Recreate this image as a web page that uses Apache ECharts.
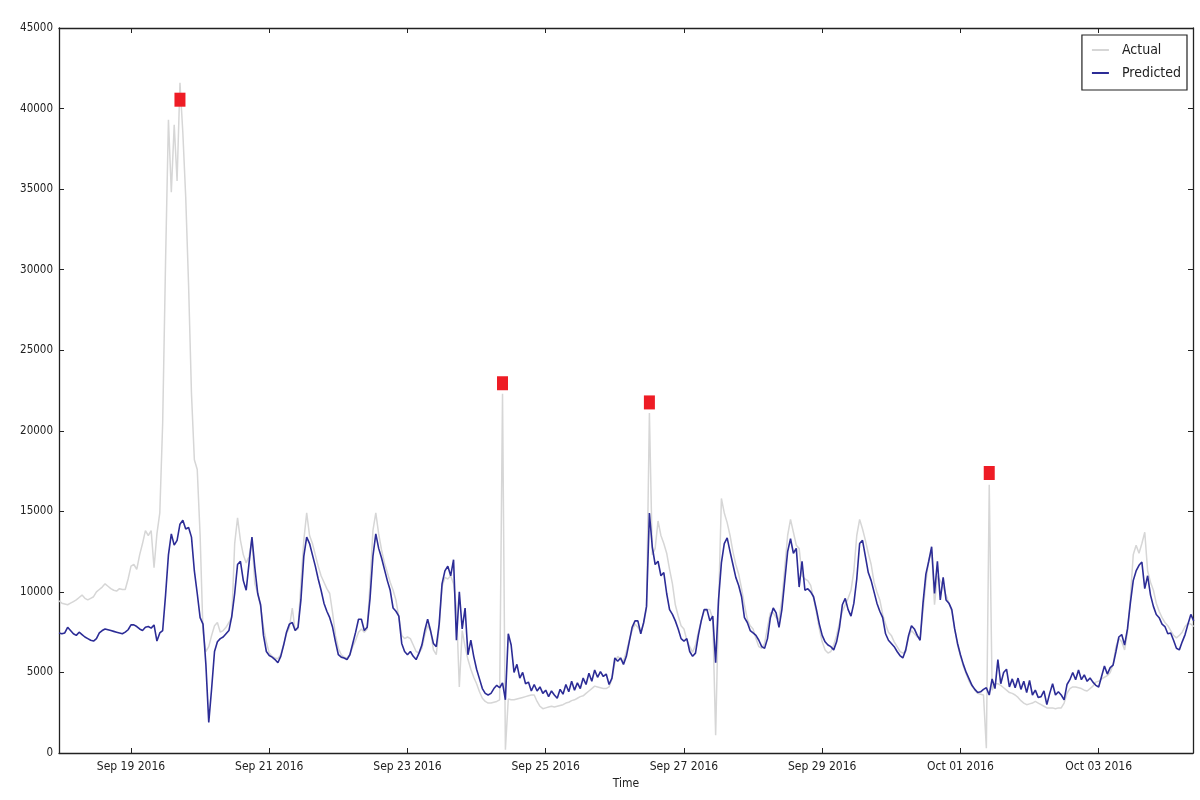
<!DOCTYPE html>
<html>
<head>
<meta charset="utf-8">
<script src="https://cdn.jsdelivr.net/npm/echarts@6/dist/echarts.min.js"></script>
<style>
  html, body { margin: 0; padding: 0; background: #fff; }
  #chart { width: 1200px; height: 800px; }
</style>
</head>
<body>
<div id="chart"></div>
<script>
// hourly readings, first point at Sep 17 2016 23:00
const startTime = '2016-09-17T23:00:00Z';

const actual = [
  9450,
  // Sep 18
  9300, 9250, 9200, 9300, 9400, 9500, 9650, 9800, 9600, 9500, 9600, 9700,
  10000, 10150, 10300, 10500, 10350, 10200, 10100, 10050, 10200, 10150, 10150, 10800,
  // Sep 19
  11600, 11700, 11400, 12300, 13000, 13800, 13500, 13800, 11500, 13600, 14900, 20500,
  30500, 39300, 34800, 39000, 35500, 41600, 38500, 34500, 29000, 22300, 18200, 17600,
  // Sep 20
  13500, 7500, 6300, 6600, 7300, 7900, 8100, 7500, 7600, 7800, 8100, 8400,
  13000, 14600, 13200, 12300, 11800, 12200, 13300, 10500, 9900, 9100, 7800, 6900,
  // Sep 21
  6200, 6000, 5900, 5850, 6100, 6700, 7400, 7800, 9000, 7600, 7700, 10500,
  13200, 14900, 13500, 13000, 12300, 11600, 11000, 10600, 10200, 9900, 8700, 7300,
  // Sep 22
  6500, 6100, 5950, 5900, 6100, 6600, 7000, 7500, 7700, 7500, 7700, 10500,
  13800, 14900, 13600, 12600, 11800, 11200, 10600, 10100, 9500, 8400, 7300, 7100,
  // Sep 23
  7200, 7100, 6700, 6300, 6200, 6500, 7300, 7900, 7600, 6400, 6100, 7800,
  10300, 10900, 10800, 11000, 10500, 9000, 4100, 7600, 6600, 5800, 5200, 4700,
  // Sep 24
  4300, 3800, 3400, 3200, 3100, 3100, 3150, 3200, 3300, 22300, 200, 3350,
  3300, 3300, 3350, 3400, 3450, 3500, 3550, 3600, 3600, 3200, 2900, 2750,
  // Sep 25
  2800, 2850, 2900, 2850, 2900, 2950, 3000, 3100, 3150, 3250, 3300, 3400,
  3500, 3550, 3700, 3850, 4000, 4150, 4100, 4050, 4000, 4000, 4100, 4600,
  // Sep 26
  5600, 6000, 5800, 5700, 6300, 7000, 7600, 8000, 7800, 7500, 8000, 9000,
  21100, 12300, 12700, 14400, 13500, 13000, 12400, 11400, 10500, 9200, 8500, 7900,
  // Sep 27
  7700, 7000, 6600, 6250, 6700, 7500, 8200, 8800, 8900, 8900, 8300, 1100,
  9000, 15800, 14900, 14300, 13500, 12500, 11700, 11100, 10200, 9200, 8300, 7900,
  // Sep 28
  7700, 7100, 6600, 6500, 6800, 7800, 8700, 8700, 8400, 8300, 9500, 11500,
  13500, 14500, 13700, 12900, 12700, 11000, 10800, 10700, 10400, 9600, 8700, 7700,
  // Sep 29
  6900, 6400, 6200, 6300, 6700, 7300, 8100, 8800, 9200, 9600, 10100, 11300,
  13500, 14500, 13900, 13200, 12400, 11700, 10600, 10000, 9500, 8600, 8000, 7500,
  // Sep 30
  7300, 6900, 6600, 6300, 6200, 6300, 7200, 7600, 7400, 7200, 7100, 8800,
  10600, 12000, 12500, 9200, 11000, 10700, 10300, 9800, 9300, 8800, 7700, 6700,
  // Oct 01
  6000, 5400, 4900, 4450, 4150, 3900, 3700, 3650, 3600, 300, 16650, 3900,
  4300, 4300, 4200, 4050, 3900, 3750, 3700, 3600, 3450, 3250, 3100, 3000,
  // Oct 02
  3050, 3100, 3200, 3100, 3000, 2900, 2800, 2800, 2800, 2750, 2800, 2800,
  3100, 3700, 4000, 4100, 4100, 4050, 4000, 3900, 3850, 4000, 4150, 4400,
  // Oct 03
  4450, 4600, 4700, 4800, 5000, 5500, 6600, 7100, 6900, 6400, 7500, 9600,
  12300, 12900, 12400, 13000, 13700, 11300, 10600, 10100, 9300, 8800, 8400, 8100,
  // Oct 04
  7900, 7600, 7300, 7150, 7300, 7500, 7850, 8050, 8000, 7850
];

const predicted = [
  7450,
  // Sep 18
  7400, 7450, 7800, 7600, 7400, 7300, 7500, 7350, 7200, 7100, 7000, 6950,
  7100, 7450, 7600, 7700, 7650, 7600, 7550, 7500, 7450, 7400, 7500, 7650,
  // Sep 19
  7950, 7950, 7850, 7700, 7600, 7800, 7850, 7750, 7950, 6950, 7450, 7600,
  9800, 12300, 13600, 12900, 13200, 14200, 14450, 13900, 14000, 13400, 11300, 9900,
  // Sep 20
  8400, 8000, 5500, 1900, 4000, 6300, 6900, 7100, 7200, 7400, 7600, 8500,
  9900, 11700, 11900, 10700, 10100, 11800, 13400, 11500, 9900, 9200, 7300, 6300,
  // Sep 21
  6050, 5950, 5800, 5600, 6000, 6700, 7500, 8000, 8100, 7600, 7800, 9500,
  12200, 13400, 13000, 12300, 11600, 10800, 10100, 9300, 8800, 8400, 7800, 6900,
  // Sep 22
  6100, 5950, 5900, 5800, 6100, 6800, 7500, 8300, 8300, 7600, 7800, 9600,
  12200, 13600, 12700, 12100, 11400, 10700, 10100, 9000, 8800, 8500, 6800, 6300,
  // Sep 23
  6100, 6300, 6000, 5800, 6200, 6700, 7600, 8300, 7600, 6800, 6600, 8000,
  10500, 11300, 11600, 11000, 12000, 7000, 10000, 7700, 9000, 6100, 7000, 6000,
  // Sep 24
  5200, 4600, 4000, 3700, 3600, 3700, 4000, 4200, 4050, 4350, 3300, 7400,
  6700, 5000, 5500, 4650, 5000, 4300, 4400, 3850, 4250, 3850, 4100, 3700,
  // Sep 25
  3900, 3500, 3850, 3600, 3400, 3950, 3650, 4250, 3800, 4450, 3900, 4350,
  4000, 4650, 4250, 4950, 4450, 5150, 4700, 5050, 4750, 4900, 4250, 4650,
  // Sep 26
  5900, 5700, 5900, 5500, 6000, 6900, 7800, 8200, 8200, 7400, 8100, 9100,
  14900, 12800, 11700, 11900, 11000, 11200, 9900, 8900, 8600, 8200, 7700, 7100,
  // Sep 27
  6950, 7100, 6300, 6000, 6200, 7300, 8200, 8900, 8900, 8200, 8500, 5600,
  9500, 11800, 13000, 13350, 12500, 11700, 10900, 10400, 9700, 8400, 8100, 7600,
  // Sep 28
  7450, 7300, 7000, 6600, 6500, 7100, 8400, 9000, 8700, 7800, 8900, 10700,
  12500, 13300, 12400, 12700, 10300, 11900, 10100, 10200, 10000, 9700, 8900, 8000,
  // Sep 29
  7300, 6900, 6700, 6600, 6400, 6900, 7800, 9200, 9600, 8900, 8500, 9300,
  10800, 13000, 13200, 12200, 11200, 10700, 10000, 9300, 8800, 8400, 7400, 7000,
  // Sep 30
  6800, 6600, 6300, 6050, 5900, 6400, 7300, 7900, 7700, 7300, 7000, 9300,
  11100, 11900, 12800, 9900, 11900, 9500, 10900, 9500, 9300, 8900, 7700, 6800,
  // Oct 01
  6100, 5500, 5000, 4600, 4200, 3950, 3750, 3800, 3950, 4050, 3600, 4600,
  4000, 5800, 4300, 5000, 5200, 4100, 4600, 4050, 4650, 3950, 4450, 3750,
  // Oct 02
  4500, 3600, 3900, 3450, 3500, 3850, 3000, 3700, 4300, 3600, 3800, 3600,
  3300, 4250, 4550, 5000, 4550, 5150, 4550, 4850, 4450, 4650, 4400, 4200,
  // Oct 03
  4100, 4750, 5400, 4900, 5300, 5450, 6300, 7200, 7350, 6700, 7700, 9300,
  10700, 11300, 11650, 11850, 10200, 11000, 9800, 9100, 8600, 8400, 8000, 7850,
  // Oct 04
  7400, 7450, 7000, 6500, 6400, 6900, 7350, 8000, 8600, 8200
];

// flagged anomalies (red squares)
const anomalyTimes = ['2016-09-19T17:00:00Z', '2016-09-24T09:00:00Z', '2016-09-26T12:00:00Z', '2016-10-01T10:00:00Z'];
const anomalyValues = [40550, 22950, 21760, 17380];

const xTickDates = ['2016-09-19', '2016-09-21', '2016-09-23', '2016-09-25', '2016-09-27', '2016-09-29', '2016-10-01', '2016-10-03'];
const xMin = '2016-09-17T23:00:00Z';
const xMax = '2016-10-04T08:45:00Z';

const HOUR = 3600 * 1000;
const t0 = Date.parse(startTime);
const actualPts = actual.map((v, i) => [t0 + i * HOUR, v]);
const predictedPts = predicted.map((v, i) => [t0 + i * HOUR, v]);
const anomalyPts = anomalyTimes.map((t, i) => [Date.parse(t), anomalyValues[i]]);
const tickTimes = xTickDates.map(d => Date.parse(d + 'T00:00:00Z'));

const MONTHS = ['Jan', 'Feb', 'Mar', 'Apr', 'May', 'Jun', 'Jul', 'Aug', 'Sep', 'Oct', 'Nov', 'Dec'];
const fmtDate = v => {
  const d = new Date(v);
  return MONTHS[d.getUTCMonth()] + ' ' + String(d.getUTCDate()).padStart(2, '0') + ' ' + d.getUTCFullYear();
};

const FONT = "'Liberation Sans Narrow', 'DejaVu Sans Condensed', 'DejaVu Sans', sans-serif";
const frame = { show: true, onZero: false, lineStyle: { color: '#222', width: 1.3 } };
const ticks = { show: true, inside: true, length: 5, lineStyle: { color: '#222', width: 1 } };

const chart = echarts.init(document.getElementById('chart'));
chart.setOption({
  animation: false,
  backgroundColor: '#fff',
  textStyle: { fontFamily: FONT },
  grid: { left: 59, right: 7, top: 28, bottom: 47 },
  legend: {
    data: [
      { name: 'Actual', icon: 'rect', itemStyle: { color: '#d6d6d6' } },
      { name: 'Predicted', icon: 'rect', itemStyle: { color: '#2c2c96' } }
    ],
    orient: 'vertical',
    right: 13,
    top: 35,
    padding: [7, 6, 9, 10],
    itemWidth: 17,
    itemHeight: 2,
    itemGap: 7,
    borderColor: '#222',
    borderWidth: 1.2,
    borderRadius: 0,
    textStyle: { fontFamily: FONT, fontSize: 14, color: '#222', lineHeight: 16, padding: [0, 0, 0, 8] }
  },
  xAxis: [
    {
      type: 'value',
      min: Date.parse(xMin),
      max: Date.parse(xMax),
      axisLine: frame,
      axisTick: Object.assign({ customValues: tickTimes }, ticks),
      axisLabel: {
        customValues: tickTimes,
        formatter: fmtDate,
        fontFamily: FONT,
        fontSize: 12,
        color: '#222',
        margin: 8
      },
      splitLine: { show: false },
      name: 'Time',
      nameLocation: 'middle',
      nameGap: 25,
      nameTextStyle: { fontFamily: FONT, fontSize: 12, color: '#222' }
    },
    {
      type: 'value',
      position: 'top',
      min: Date.parse(xMin),
      max: Date.parse(xMax),
      axisLine: frame,
      axisTick: Object.assign({ customValues: tickTimes }, ticks),
      axisLabel: { show: false },
      splitLine: { show: false }
    }
  ],
  yAxis: [
    {
      type: 'value',
      min: 0,
      max: 45000,
      interval: 5000,
      axisLine: frame,
      axisTick: ticks,
      axisLabel: { formatter: v => String(v), fontFamily: FONT, fontSize: 11.5, color: '#222', margin: 6 },
      splitLine: { show: false }
    },
    {
      type: 'value',
      position: 'right',
      min: 0,
      max: 45000,
      interval: 5000,
      axisLine: frame,
      axisTick: ticks,
      axisLabel: { show: false },
      splitLine: { show: false }
    }
  ],
  series: [
    {
      name: 'Actual',
      type: 'line',
      data: actualPts,
      showSymbol: false,
      color: '#d6d6d6',
      lineStyle: { color: '#d6d6d6', width: 1.5 },
      z: 2
    },
    {
      name: 'Predicted',
      type: 'line',
      data: predictedPts,
      showSymbol: false,
      color: '#2c2c96',
      lineStyle: { color: '#2c2c96', width: 1.6 },
      z: 3
    },
    {
      name: 'Anomaly',
      type: 'scatter',
      data: anomalyPts,
      symbol: 'rect',
      symbolSize: [11, 14],
      itemStyle: { color: '#ee1c25', opacity: 1 },
      z: 4
    }
  ]
});
</script>
</body>
</html>
